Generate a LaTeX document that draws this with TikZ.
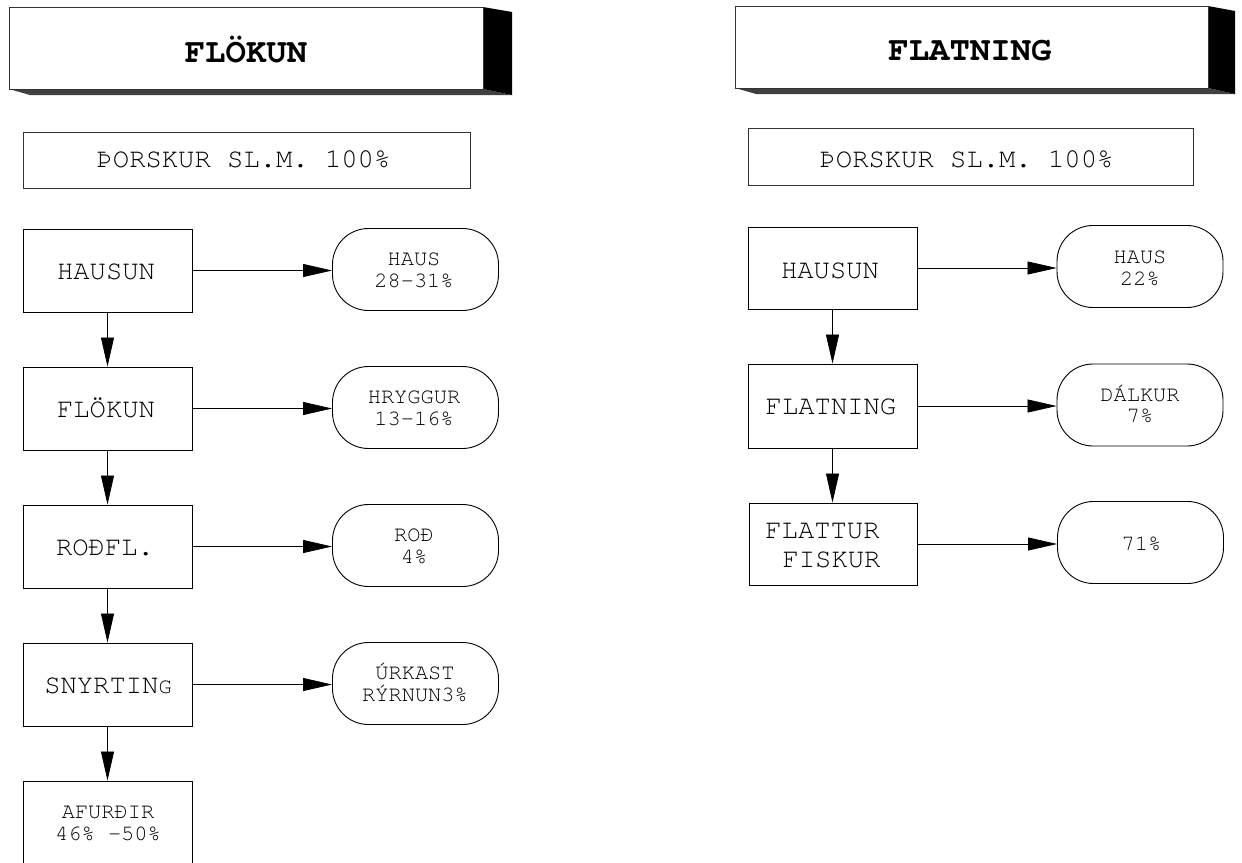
\documentclass[tikz,border=0pt]{standalone}
\usepackage{fontspec}
\newfontfamily\cour{TeX Gyre Cursor}
\usetikzlibrary{arrows.meta}
\begin{document}
\begin{tikzpicture}[x=1pt,y=-1pt,
  boxnode/.style={draw=black, line width=0.9pt, rectangle, inner sep=0pt, minimum width=169pt, minimum height=83pt},
  pill/.style={draw=black, line width=0.9pt, rectangle, rounded corners=36pt, inner sep=0pt, minimum width=166pt, minimum height=82pt},
  facebox/.style={draw=black!80, line width=0.7pt, rectangle, inner sep=0pt, minimum width=474pt, minimum height=82pt, fill=white},
  bigtxt/.style={font=\cour\fontsize{27.2}{27.2}\selectfont, inner sep=0pt, anchor=base},
  smalltxt/.style={font=\cour\fontsize{22}{22}\selectfont, inner sep=0pt, anchor=base},
  titletxt/.style={font=\cour\bfseries\fontsize{34}{34}\selectfont, inner sep=0pt, anchor=base},
  flow/.style={-{Triangle[length=29pt,width=13pt]}, line width=0.7pt},
  shadowdark/.style={fill=black},
  shadowlight/.style={fill=black!75}
]
\useasboundingbox (0,0) rectangle (1242,862);

% ---------------- left column: FLÖKUN ----------------
\fill[shadowlight] (9,89) -- (30,95) -- (512,95) -- (483,89) -- cycle;
\fill[shadowdark] (483,7) -- (512,12) -- (512,95) -- (483,89) -- cycle;
\node[facebox] (titleL) at (246,48) {};
\node[titletxt] (titleLt) at (246,62) {FLÖKUN};

\node[draw=black!80, line width=0.7pt, inner sep=0pt, minimum width=447pt, minimum height=56pt] (torL) at (246.5,160) {};
\node[bigtxt] (torLt) at (243.5,167) {ÞORSKUR SL.M. 100\%};

\node[boxnode] (hausunL) at (107.5,270.5) {};
\node[boxnode] (flokunL) at (107.5,408.5) {};
\node[boxnode] (rodflL)  at (107.5,546.5) {};
\node[boxnode] (snyrtL)  at (107.5,684.5) {};
\node[boxnode, minimum height=118pt] (afurdL) at (108,840) {};

\node[bigtxt] (hausunLt) at (106,279) {HAUSUN};
\node[bigtxt] (flokunLt) at (106,417) {FLÖKUN};
\node[bigtxt] (rodflLt)  at (105,555) {ROÐFL.};
\node[bigtxt] (snyrtLt)  at (108,693) {SNYRTIN{\fontsize{22}{22}\selectfont G}};
\node[smalltxt] (afurdLa) at (108,818) {AFURÐIR};
\node[smalltxt] (afurdLb) at (108,840) {46\% -50\%};

\node[pill] (hausL) at (415.5,269.5) {};
\node[pill] (hryggL) at (415.5,407.5) {};
\node[pill] (rodL) at (415.5,545.5) {};
\node[pill] (urkL) at (415.5,683.5) {};

\node[smalltxt] (hausLa) at (414,265) {HAUS};
\node[smalltxt] (hausLb) at (414,287) {28-31\%};
\node[smalltxt] (hryggLa) at (414,403) {HRYGGUR};
\node[smalltxt] (hryggLb) at (414,425) {13-16\%};
\node[smalltxt] (rodLa) at (414,541) {ROÐ};
\node[smalltxt] (rodLb) at (414,563) {4\%};
\node[smalltxt] (urkLa) at (415,679) {ÚRKAST};
\node[smalltxt] (urkLb) at (415,701) {RÝRNUN3\%};

\draw[flow] (hausunL.east) -- (hausL.west |- hausunL.east);
\draw[flow] (flokunL.east) -- (hryggL.west |- flokunL.east);
\draw[flow] (rodflL.east) -- (rodL.west |- rodflL.east);
\draw[flow] (snyrtL.east) -- (urkL.west |- snyrtL.east);
\draw[flow] (hausunL.south) -- (flokunL.north);
\draw[flow] (flokunL.south) -- (rodflL.north);
\draw[flow] (rodflL.south) -- (snyrtL.north);
\draw[flow] (snyrtL.south) -- (afurdL.north -| snyrtL.south);

% ---------------- right column: FLATNING ----------------
\fill[shadowlight] (735,88) -- (756,94) -- (1235,94) -- (1208,88) -- cycle;
\fill[shadowdark] (1208,6) -- (1235,11) -- (1235,94) -- (1208,88) -- cycle;
\node[facebox, minimum width=473pt] (titleR) at (971.5,47) {};
\node[titletxt] (titleRt) at (970,60) {FLATNING};

\node[draw=black!80, line width=0.7pt, inner sep=0pt, minimum width=445pt, minimum height=57pt] (torR) at (970.5,156.5) {};
\node[bigtxt] (torRt) at (966.5,167) {ÞORSKUR SL.M. 100\%};

\node[boxnode, minimum height=82pt] (hausunR) at (832.5,268) {};
\node[boxnode, minimum height=84pt] (flatR) at (832.5,406) {};
\node[boxnode, minimum height=82pt, minimum width=168pt] (flattR) at (833,544) {};

\node[bigtxt] (hausunRt) at (830,278) {HAUSUN};
\node[bigtxt] (flatRt) at (831,414) {FLATNING};
\node[bigtxt] (flattRa) at (822.5,538) {FLATTUR};
\node[bigtxt] (flattRb) at (831.5,567) {FISKUR};

\node[pill] (hausR) at (1140,266.5) {};
\node[pill] (dalkR) at (1140,405) {};
\node[pill] (restR) at (1140.5,542.5) {};

\node[smalltxt] (hausRa) at (1140,263) {HAUS};
\node[smalltxt] (hausRb) at (1140,285) {22\%};
\node[smalltxt] (dalkRa) at (1140,401) {DÁLKUR};
\node[smalltxt] (dalkRb) at (1140,422) {7\%};
\node[smalltxt] (restRt) at (1141.5,550) {71\%};

\draw[flow] (hausunR.east) -- (hausR.west |- hausunR.east);
\draw[flow] (flatR.east) -- (dalkR.west |- flatR.east);
\draw[flow] (flattR.east) -- (restR.west |- flattR.east);
\draw[flow] (hausunR.south) -- (flatR.north);
\draw[flow] (flatR.south) -- (flattR.north -| flatR.south);
\end{tikzpicture}
\end{document}
